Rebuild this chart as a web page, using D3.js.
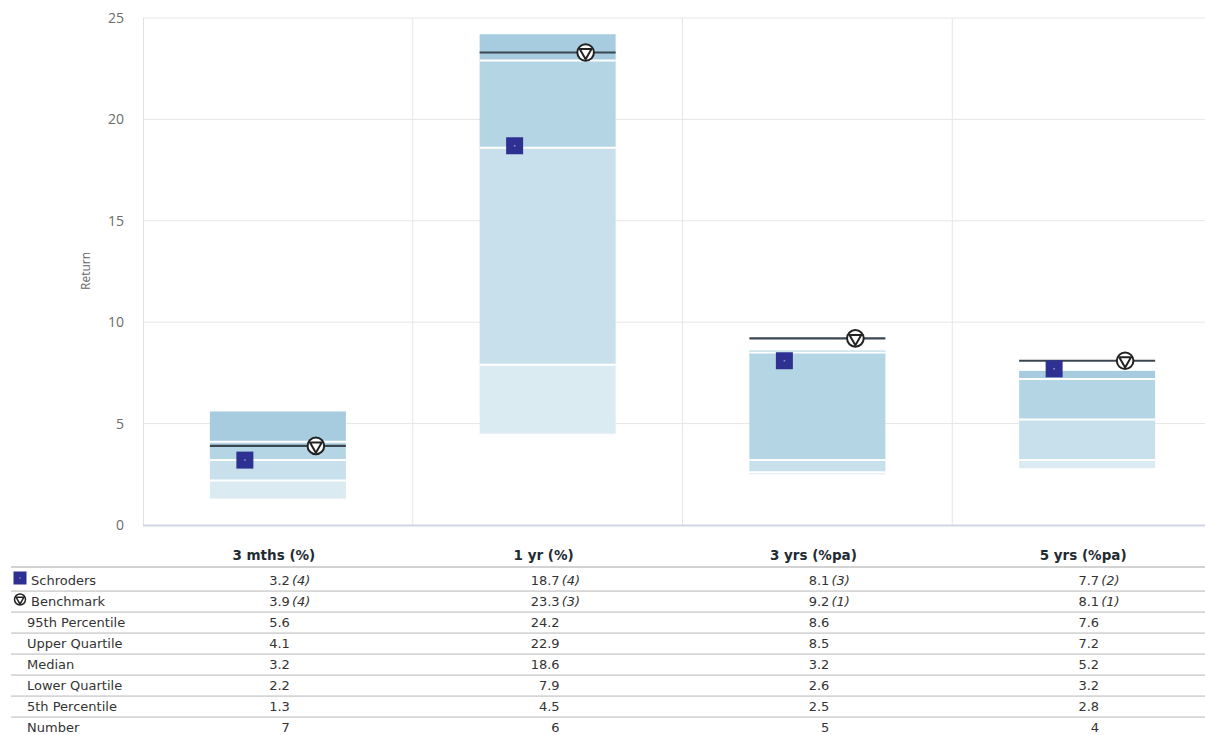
<!DOCTYPE html>
<html><head><meta charset="utf-8">
<script src="https://cdn.jsdelivr.net/npm/d3@7/dist/d3.min.js"></script>
<style>body{margin:0;background:#fff;overflow:hidden}svg{display:block}</style>
</head><body><svg id="c" width="1205" height="735"></svg>
<script>
const categories = ["3 mths (%)", "1 yr (%)", "3 yrs (%pa)", "5 yrs (%pa)"];
const schroders = [3.2, 18.7, 8.1, 7.7];
const schrodersRank = [4, 4, 3, 2];
const benchmark = [3.9, 23.3, 9.2, 8.1];
const benchmarkRank = [4, 3, 1, 1];
const p95 = [5.6, 24.2, 8.6, 7.6];
const upperQuartile = [4.1, 22.9, 8.5, 7.2];
const median = [3.2, 18.6, 3.2, 5.2];
const lowerQuartile = [2.2, 7.9, 2.6, 3.2];
const p5 = [1.3, 4.5, 2.5, 2.8];
const number = [7, 6, 5, 4];
const yTicks = [0, 5, 10, 15, 20, 25];

const svg = d3.select("#c");
const x = d3.scaleBand().domain(categories).range([143, 1222]).padding(0);
const y = d3.scaleLinear().domain([0, 25]).range([525, 18]);
const bw = x.bandwidth();
const boxW = 136;
const cx = c => x(c) + bw / 2;

// grid
const g = svg.append("g");
g.selectAll("line.h").data(yTicks.filter(t => t > 0)).join("line")
  .attr("x1", 143).attr("x2", 1205).attr("y1", d => y(d)).attr("y2", d => y(d))
  .attr("stroke", "#e6e6e6").attr("stroke-width", 1);
g.selectAll("line.v").data(categories.slice(1)).join("line")
  .attr("x1", d => x(d)).attr("x2", d => x(d)).attr("y1", y(25)).attr("y2", y(0))
  .attr("stroke", "#e3e6ea").attr("stroke-width", 1);
g.append("line").attr("x1", 143.5).attr("x2", 143.5).attr("y1", y(25)).attr("y2", y(0)).attr("stroke", "#dde2e6");
g.append("line").attr("x1", 143).attr("x2", 1205).attr("y1", y(0) + 0.5).attr("y2", y(0) + 0.5).attr("stroke", "#cfd8e0").attr("stroke-width", 2);

// y axis
const yAxis = d3.axisLeft(y).tickValues(yTicks).tickSize(0).tickPadding(0);
const ya = svg.append("g").attr("transform", "translate(124,0)").call(yAxis);
ya.select(".domain").remove();
ya.selectAll("text").attr("fill", "#6b6b6b").style("font-family", "Open Sans, sans-serif").style("font-size", "14px");
svg.append("text").attr("transform", "translate(90,271) rotate(-90)").attr("text-anchor", "middle")
  .attr("fill", "#666").style("font-family", "Open Sans, sans-serif").style("font-size", "12px").text("Return");

// boxes
const segs = [
  {hi: p95, lo: upperQuartile, col: "#a7cce0"},
  {hi: upperQuartile, lo: median, col: "#b4d5e4"},
  {hi: median, lo: lowerQuartile, col: "#c8e0eb"},
  {hi: lowerQuartile, lo: p5, col: "#dbebf2"}
];
segs.forEach(s => {
  svg.append("g").selectAll("rect").data(categories).join("rect")
    .attr("x", d => cx(d) - boxW / 2).attr("width", boxW)
    .attr("y", (d, i) => y(s.hi[i])).attr("height", (d, i) => y(s.lo[i]) - y(s.hi[i]))
    .attr("fill", s.col);
});
[upperQuartile, median, lowerQuartile].forEach(arr => {
  svg.append("g").selectAll("line").data(categories).join("line")
    .attr("x1", d => cx(d) - boxW / 2).attr("x2", d => cx(d) + boxW / 2)
    .attr("y1", (d, i) => y(arr[i])).attr("y2", (d, i) => y(arr[i]))
    .attr("stroke", "#fff").attr("stroke-width", 2);
});

// benchmark lines
svg.append("g").selectAll("line").data(categories).join("line")
  .attr("x1", d => cx(d) - boxW / 2).attr("x2", d => cx(d) + boxW / 2)
  .attr("y1", (d, i) => y(benchmark[i])).attr("y2", (d, i) => y(benchmark[i]))
  .attr("stroke", "#3a4650").attr("stroke-width", 2.2);

// markers
function sq(sel, s) {
  sel.append("rect").attr("x", -s / 2).attr("y", -s / 2).attr("width", s).attr("height", s).attr("fill", "#2e3192");
  sel.append("rect").attr("x", -0.8).attr("y", -0.8).attr("width", 1.6).attr("height", 1.6).attr("fill", "#8f90d0");
}
function bm(sel, r, sw) {
  sel.append("circle").attr("r", r).attr("fill", "#fff").attr("stroke", "#222").attr("stroke-width", sw);
  const tr = r * 0.82;
  const pts = [-150, -30, 90].map(a => [tr * Math.cos(a * Math.PI / 180), tr * Math.sin(a * Math.PI / 180)]);
  sel.append("path").attr("d", "M" + pts.map(p => p.join(",")).join("L") + "Z")
    .attr("fill", "#fff").attr("stroke", "#222").attr("stroke-width", sw).attr("stroke-linejoin", "round");
}
svg.append("g").selectAll("g").data(categories).join("g")
  .attr("transform", (d, i) => `translate(${cx(d) - 33},${y(schroders[i])})`)
  .each(function () { sq(d3.select(this), 17); });
svg.append("g").selectAll("g").data(categories).join("g")
  .attr("transform", (d, i) => `translate(${cx(d) + 38},${y(benchmark[i])})`)
  .each(function () { bm(d3.select(this), 8.3, 2); });

// table
const font = "DejaVu Sans, Verdana, sans-serif";
const rowY = d3.scaleLinear().domain([0, 1]).range([580.5, 601.5]);
const rows = [
  {label: "Schroders", vals: schroders, ranks: schrodersRank, icon: "sq"},
  {label: "Benchmark", vals: benchmark, ranks: benchmarkRank, icon: "bm"},
  {label: "95th Percentile", vals: p95},
  {label: "Upper Quartile", vals: upperQuartile},
  {label: "Median", vals: median},
  {label: "Lower Quartile", vals: lowerQuartile},
  {label: "5th Percentile", vals: p5},
  {label: "Number", vals: number, fmt: d => String(d)}
];
const t = svg.append("g");
t.selectAll("text.hd").data(categories).join("text")
  .attr("x", d => cx(d) - 4).attr("y", 555).attr("dy", "0.35em").attr("text-anchor", "middle")
  .attr("fill", "#1f2b33").style("font-family", font).style("font-weight", "bold").style("font-size", "13.5px")
  .text(d => d);
t.append("line").attr("x1", 11).attr("x2", 1205).attr("y1", 567).attr("y2", 567).attr("stroke", "#d2d2d2").attr("stroke-width", 2);
rows.forEach((r, ri) => {
  const yy = rowY(ri);
  if (ri < rows.length - 1)
    t.append("line").attr("x1", 11).attr("x2", 1205).attr("y1", yy + 10.6).attr("y2", yy + 10.6).attr("stroke", "#d6d6d6").attr("stroke-width", 1.6);
  const lx = r.icon ? 31 : 27;
  t.append("text").attr("x", lx).attr("y", yy).attr("dy", "0.33em").attr("fill", "#333")
    .style("font-family", font).style("font-size", "13px").text(r.label);
  if (r.icon === "sq") {
    t.append("rect").attr("x", 13.5).attr("y", yy - 9).attr("width", 13).attr("height", 13).attr("fill", "#2e3192");
    t.append("rect").attr("x", 19.3).attr("y", yy - 3.2).attr("width", 1.4).attr("height", 1.4).attr("fill", "#8f90d0");
  } else if (r.icon === "bm") {
    const gi = t.append("g").attr("transform", `translate(20,${yy - 2})`);
    bm(gi, 5.5, 1.5);
  }
  categories.forEach((c, i) => {
    t.append("text").attr("x", cx(c) + 12).attr("y", yy).attr("dy", "0.33em")
      .attr("text-anchor", "end").attr("fill", "#333").style("font-family", font).style("font-size", "13px")
      .text(r.fmt ? r.fmt(r.vals[i]) : r.vals[i].toFixed(1));
    if (r.ranks) {
      t.append("text").attr("x", cx(c) + 14).attr("y", yy).attr("dy", "0.33em")
        .attr("fill", "#333").style("font-family", font).style("font-style", "italic").style("font-size", "13px")
        .text("(" + r.ranks[i] + ")");
    }
  });
});
</script></body></html>
